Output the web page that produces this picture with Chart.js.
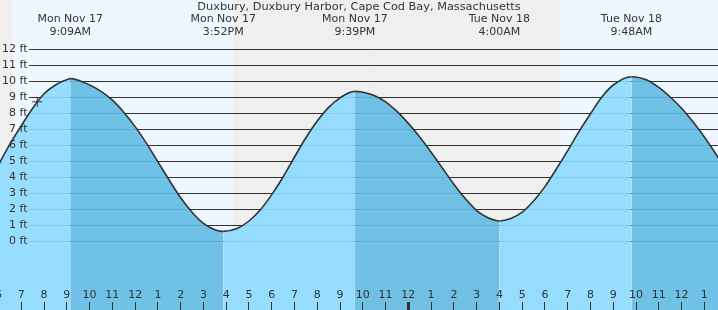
<!DOCTYPE html>
<html>
<head>
<meta charset="utf-8">
<script src="https://cdn.jsdelivr.net/npm/chart.js@4.4.1/dist/chart.umd.min.js"></script>
<style>
  html, body { margin: 0; padding: 0; background: #fff; overflow: hidden; }
  #tide { display: block; }
</style>
</head>
<body>
<canvas id="tide" width="718" height="310"></canvas>
<script>
const TITLE = 'Duxbury, Duxbury Harbor, Cape Cod Bay, Massachusetts'

// hours counted from Mon Nov 17 00:00, heights
const tideHours = [6, 6.5, 7, 7.5, 8, 8.5, 9, 9.15, 10, 10.5, 11, 11.5, 12, 12.5, 13, 13.5, 14, 14.5, 15, 15.5, 15.87,
  16.5, 17, 17.5, 18, 18.5, 19, 19.5, 20, 20.5, 21, 21.65, 22, 22.5, 23, 23.5, 24, 24.5, 25, 25.5, 26, 26.5, 27, 27.5, 28,
  28.5, 29, 29.5, 30, 30.5, 31, 31.5, 32, 32.5, 33, 33.8, 34.5, 35, 35.5, 36, 36.5, 37, 37.5, 38]
const tideFeet = [4.75, 6.05, 7.2, 8.3, 9.2, 9.75, 10.08, 10.15, 9.75, 9.35, 8.8, 8.05, 7.15, 6.1, 4.95, 3.8, 2.7, 1.8, 1.1, 0.7, 0.6,
  0.8, 1.25, 1.95, 2.9, 4.0, 5.25, 6.45, 7.5, 8.35, 8.95, 9.35, 9.3, 9.1, 8.7, 8.1, 7.35, 6.5, 5.55, 4.55, 3.55, 2.65, 1.9, 1.45, 1.25,
  1.4, 1.8, 2.5, 3.4, 4.5, 5.65, 6.85, 7.95, 9.0, 9.75, 10.27, 10.05, 9.6, 9.0, 8.3, 7.45, 6.5, 5.45, 4.35]

const eventHours = [9.15, 15.87, 21.65, 28.0, 33.8]
const eventDays = ['Mon Nov 17', 'Mon Nov 17', 'Mon Nov 17', 'Tue Nov 18', 'Tue Nov 18']
const eventTimes = ['9:09AM', '3:52PM', '9:39PM', '4:00AM', '9:48AM']

const sunriseHours = [6.62, 30.65]
const sunsetHours = [16.3, 40.2]

const nowHour = 7.7
const nowFeet = 8.7

const hourTicks = [6, 7, 8, 9, 10, 11, 12, 13, 14, 15, 16, 17, 18, 19, 20, 21, 22, 23, 24, 25, 26, 27, 28, 29, 30, 31, 32, 33, 34, 35, 36, 37, 38]
const hourLabels = ['6', '7', '8', '9', '10', '11', '12', '1', '2', '3', '4', '5', '6', '7', '8', '9', '10', '11', '12', '1', '2', '3', '4', '5', '6', '7', '8', '9', '10', '11', '12', '1', '2']
const feetTicks = [0, 1, 2, 3, 4, 5, 6, 7, 8, 9, 10, 11, 12]

const X_MIN = 6.065
const X_MAX = 37.6
const Y_MIN = -4.3125
const Y_MAX = 15.0625

const FONT = 'DejaVu Sans'
const TEXT = '#333'
const DAY = '#eef7ff'
const NIGHT = '#efefef'
const RISING = 'rgba(140, 217, 255, 0.9)'
const FALLING = 'rgba(98, 186, 227, 0.9)'

const zeroBox = (s) => {
  s.paddingTop = 0
  s.paddingBottom = 0
  s.paddingLeft = 0
  s.paddingRight = 0
}

// day / night background behind everything
const skyPlugin = {
  id: 'sky',
  beforeDraw (chart) {
    const { ctx, width, height, scales: { x } } = chart
    ctx.save()
    ctx.fillStyle = NIGHT
    ctx.fillRect(0, 0, width, height)
    ctx.fillStyle = DAY
    sunriseHours.forEach((rise, i) => {
      const x0 = x.getPixelForValue(rise)
      const x1 = x.getPixelForValue(sunsetHours[i])
      ctx.fillRect(x0, 0, x1 - x0, height)
    })
    ctx.restore()
  }
}

// level lines, drawn under the water
const levelPlugin = {
  id: 'levels',
  beforeDatasetsDraw (chart) {
    const { ctx, chartArea, scales: { y } } = chart
    ctx.save()
    ctx.strokeStyle = '#333'
    ctx.lineWidth = 1
    feetTicks.forEach(v => {
      const py = Math.round(y.getPixelForValue(v)) + 0.5
      ctx.beginPath()
      ctx.moveTo(29, py)
      ctx.lineTo(chartArea.right, py)
      ctx.stroke()
    })
    ctx.restore()
  }
}

// title and high / low captions
const captionPlugin = {
  id: 'captions',
  afterDraw (chart) {
    const { ctx, width, scales: { x } } = chart
    ctx.save()
    ctx.fillStyle = TEXT
    ctx.textAlign = 'center'
    ctx.textBaseline = 'middle'
    ctx.font = '11.3px "' + FONT + '"'
    ctx.fillText(TITLE, width / 2, 7)
    ctx.font = '11px "' + FONT + '"'
    eventHours.forEach((h, i) => {
      const px = x.getPixelForValue(h)
      ctx.fillText(eventDays[i], px, 19.5)
      ctx.fillText(eventTimes[i], px, 32.5)
    })
    ctx.restore()
  }
}

new Chart(document.getElementById('tide'), {
  type: 'line',
  data: {
    datasets: [
      {
        label: 'now',
        data: [{ x: nowHour, y: nowFeet }],
        showLine: false,
        pointStyle: 'cross',
        pointRadius: 5,
        borderColor: '#333',
        borderWidth: 1,
        order: 0
      },
      {
        label: 'tide',
        data: tideHours.map((h, i) => ({ x: h, y: tideFeet[i] })),
        borderColor: '#333',
        borderWidth: 1.6,
        pointRadius: 0,
        cubicInterpolationMode: 'monotone',
        fill: 'start',
        backgroundColor: RISING,
        segment: {
          backgroundColor: ctx => ctx.p0.parsed.y > ctx.p1.parsed.y ? FALLING : RISING
        },
        order: 1
      }
    ]
  },
  options: {
    responsive: false,
    animation: false,
    layout: { padding: 0, autoPadding: false },
    plugins: {
      legend: { display: false },
      title: { display: false },
      tooltip: { enabled: false }
    },
    scales: {
      x: {
        type: 'linear',
        position: 'bottom',
        min: X_MIN,
        max: X_MAX,
        border: { display: false },
        grid: {
          z: 1,
          drawOnChartArea: false,
          drawTicks: true,
          tickLength: -8,
          tickColor: '#333',
          tickWidth: ctx => (ctx.tick && ctx.tick.value === 24 ? 3 : 1)
        },
        afterBuildTicks: s => { s.ticks = hourTicks.map(v => ({ value: v })) },
        afterFit: s => { s.height = 0; zeroBox(s) },
        ticks: {
          z: 1,
          mirror: true,
          padding: 8,
          autoSkip: false,
          maxRotation: 0,
          color: TEXT,
          font: { family: FONT, size: 11 },
          callback: (v, i) => hourLabels[i]
        }
      },
      y: {
        type: 'linear',
        position: 'left',
        min: Y_MIN,
        max: Y_MAX,
        border: { display: false },
        grid: { display: false },
        afterBuildTicks: s => { s.ticks = feetTicks.map(v => ({ value: v })) },
        afterFit: s => { s.width = 0; zeroBox(s) },
        ticks: {
          z: 1,
          mirror: true,
          crossAlign: 'far',
          padding: 2,
          color: TEXT,
          font: { family: FONT, size: 11 },
          callback: v => v + ' ft'
        }
      }
    }
  },
  plugins: [skyPlugin, levelPlugin, captionPlugin]
})
</script>
</body>
</html>
